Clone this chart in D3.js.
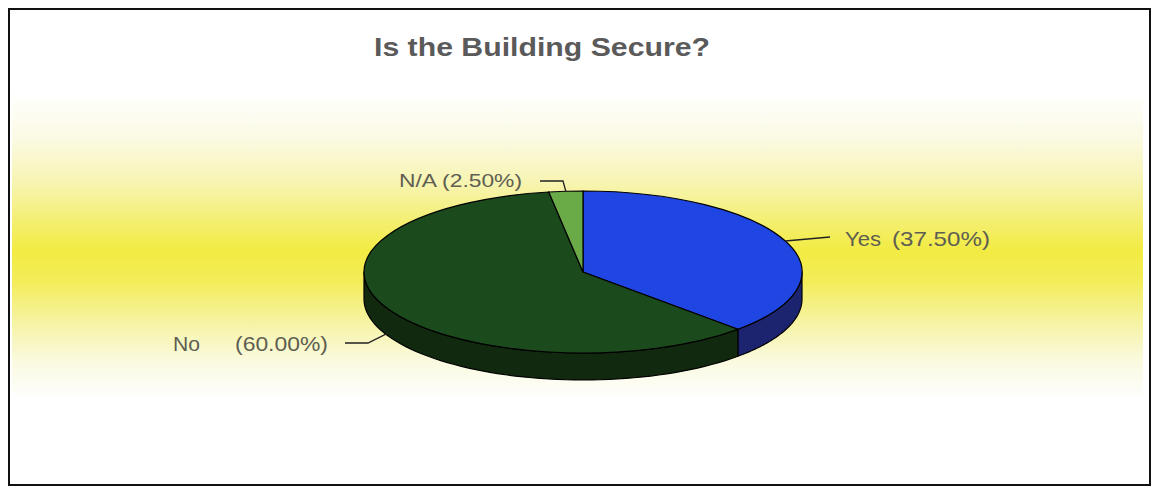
<!DOCTYPE html>
<html><head><meta charset="utf-8">
<script src="https://cdn.jsdelivr.net/npm/d3@7/dist/d3.min.js"></script>
<style>html,body{margin:0;padding:0;background:#fff;}svg{display:block;}</style>
</head><body>
<script>
const categories = ["Yes", "No", "N/A"];
const values = [37.5, 60.0, 2.5];
const pctLabels = ["(37.50%)", "(60.00%)", "(2.50%)"];
const title = "Is the Building Secure?";

const W = 1156, H = 488;
const cx = 583, cy = 272, rx = 219, ry = 81, depth = 27;
const topColors = ["#1f45e2", "#1b4a1c", "#6aab48"];
const sideColors = ["#1c2470", "#10290f", "#3d6a2a"];

const svg = d3.select("body").append("svg").attr("width", W).attr("height", H);
const defs = svg.append("defs");
const g = defs.append("linearGradient").attr("id","bg").attr("x1",0).attr("y1",0).attr("x2",0).attr("y2",1);
[[0,"#ffffff"],[0.15,"#fbfae4"],[0.3,"#f7f4b0"],[0.42,"#f4ef72"],[0.52,"#f2eb42"],[0.62,"#f3ed5a"],[0.75,"#f6f3a2"],[0.88,"#fafae0"],[1,"#fefefe"]]
  .forEach(([o,c]) => g.append("stop").attr("offset",o).attr("stop-color",c));

svg.append("rect").attr("x",12).attr("y",92).attr("width",1131).attr("height",306).attr("fill","url(#bg)");

// border
svg.append("rect").attr("x",9).attr("y",9).attr("width",1141).attr("height",476)
  .attr("fill","none").attr("stroke","#111").attr("stroke-width",2);

svg.append("text").attr("x",374).attr("y",56).text(title)
  .attr("font-family","Liberation Sans, Arial, sans-serif").attr("font-weight","bold")
  .attr("font-size",25).attr("fill","#5a5a5a")
  .attr("textLength",336).attr("lengthAdjust","spacingAndGlyphs");

const pie = d3.pie().sort(null).value(d => d)(values);
const px = t => cx + rx * Math.sin(t);
const py = t => cy - ry * Math.cos(t);

// sides
const line = d3.line();
pie.forEach((s, i) => {
  const a0 = Math.max(s.startAngle, Math.PI/2), a1 = Math.min(s.endAngle, 3*Math.PI/2);
  if (a1 <= a0) return;
  const n = 60, pts = [];
  for (let k = 0; k <= n; k++) { const t = a0 + (a1-a0)*k/n; pts.push([px(t), py(t)]); }
  for (let k = n; k >= 0; k--) { const t = a0 + (a1-a0)*k/n; pts.push([px(t), py(t)+depth]); }
  svg.append("path").attr("d", line(pts) + "Z").attr("fill", sideColors[i])
    .attr("stroke","#000").attr("stroke-width",1.2).attr("stroke-linejoin","round");
});

// tops
const arc = d3.arc().innerRadius(0).outerRadius(rx);
const topG = svg.append("g").attr("transform",`translate(${cx},${cy}) scale(1,${ry/rx})`);
topG.selectAll("path").data(pie).join("path").attr("d", arc)
  .attr("fill",(d,i)=>topColors[i]).attr("stroke","#000").attr("stroke-width",1.2)
  .attr("vector-effect","non-scaling-stroke");

// leaders and labels
const labelLayout = [
  {dy:0, elbow:[830,237], end:[830,237], nameX:845, pctX:892, y:246, nameLen:36, pctLen:98, fs:21},
  {dy:depth*0.9, elbow:[368,343], end:[345,343], nameX:173, pctX:235, y:351, nameLen:27, pctLen:93, fs:21},
  {dy:0, elbow:[563,181], end:[540,181], nameX:399, pctX:null, y:187, nameLen:123, pctLen:0, fs:19}
];
pie.forEach((s,i) => {
  const m = (s.startAngle + s.endAngle)/2, L = labelLayout[i];
  const a = [px(m), py(m) + L.dy];
  svg.append("path").attr("d", line([a, L.elbow, L.end])).attr("fill","none")
    .attr("stroke","#222").attr("stroke-width",1.3);
  const txt = (x, str, len) => svg.append("text").attr("x",x).attr("y",L.y).text(str)
    .attr("font-family","Liberation Sans, Arial, sans-serif").attr("font-size",L.fs)
    .attr("fill","#5e5e52").attr("textLength",len).attr("lengthAdjust","spacingAndGlyphs");
  if (L.pctX === null) txt(L.nameX, categories[i] + " " + pctLabels[i], L.nameLen);
  else { txt(L.nameX, categories[i], L.nameLen); txt(L.pctX, pctLabels[i], L.pctLen); }
});
</script>
</body></html>
